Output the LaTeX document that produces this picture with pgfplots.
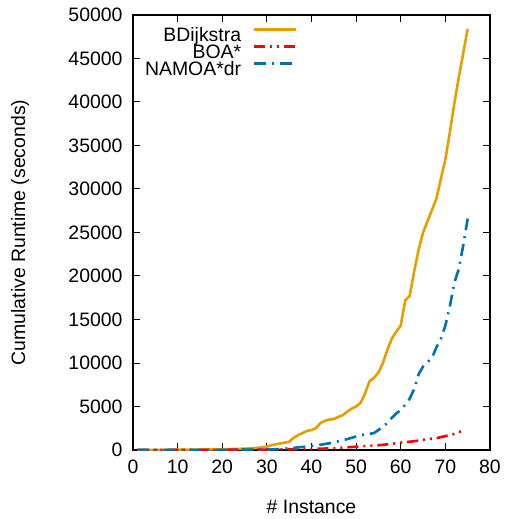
\documentclass[border=0pt]{standalone}
\usepackage{pgfplots}
\pgfplotsset{compat=1.18}
\usepackage{fontspec}
\setmainfont{Liberation Sans}

\definecolor{bdorange}{RGB}{230,159,0}
\definecolor{boared}{RGB}{255,0,0}
\definecolor{namblue}{RGB}{0,114,178}

\begin{document}
\begin{tikzpicture}
\begin{axis}[
    scale only axis,
    width=357bp, height=435bp,
    xmin=0, xmax=80, ymin=0, ymax=50000,
    xtick={0,10,...,80},
    ytick={0,5000,...,50000},
    scaled y ticks=false,
    /pgf/number format/1000 sep={},
    /pgf/number format/assume math mode=true,
    tick label style={font=\fontsize{19.5}{22}\selectfont},
    label style={font=\fontsize{19.5}{22}\selectfont},
    xlabel={\# Instance},
    ylabel={Cumulative Runtime (seconds)},
    xlabel style={at={(axis description cs:0.5,0)}, anchor=center, yshift=-57bp},
    ylabel style={at={(axis description cs:0,0.5)}, anchor=center, rotate=0, yshift=113bp},
    xticklabel style={yshift=-6bp},
    yticklabel style={xshift=-7bp},
    tick align=inside,
    major tick length=7bp,
    axis line style={line width=1.2bp},
    tick style={line width=1bp, black},
    legend cell align=right,
    legend plot pos=right,
    legend style={draw=none, fill=none, at={(0.462,0.97)}, anchor=north east,
        font=\fontsize{19.5}{20}\selectfont, row sep=4.2bp, inner sep=0bp,
        nodes={inner sep=0bp, text height=10bp, text depth=0bp}},
    legend image code/.code={\path (0bp,6.5bp); \draw[#1] (12bp,6.5bp) -- (54bp,6.5bp);},
]
\addplot[color=bdorange, line width=2.6bp] coordinates {
(1,5)(5,15)(10,30)(15,50)(20,80)(25,150)(28,250)(30,380)(31,550)(33,750)(35,950)
(36,1400)(37,1700)(38,1950)(39,2200)(40,2300)(41,2500)(42,3100)(43,3350)(44,3500)
(45,3550)(46,3800)(47,4000)(48,4400)(49,4750)(50,5000)(51,5400)(52,6500)(53,7900)
(54,8300)(55,8900)(56,10000)(57,11500)(58,12800)(59,13600)(60,14300)(61,17200)
(62,17700)(63,20500)(64,23000)(65,25000)(66,26300)(67,27600)(68,28900)(69,31200)
(70,33400)(71,36500)(72,39800)(73,42800)(74,45600)(75,48400)};
\addlegendentry{BDijkstra}
\addplot[color=boared, line width=2.6bp,
    dash pattern=on 11bp off 5bp on 2bp off 5bp on 2bp off 5bp] coordinates {
(1,0)(10,5)(20,20)(30,50)(40,120)(45,200)(50,380)(55,550)(58,700)(60,850)
(62,950)(64,1080)(66,1250)(68,1350)(70,1600)(72,1850)(74,2250)};
\addlegendentry{BOA*}
\addplot[color=namblue, line width=2.6bp,
    dash pattern=on 12bp off 6bp on 2bp off 6bp] coordinates {
(1,0)(10,5)(20,20)(30,50)(33,115)(36,250)(38,350)(40,460)(42,600)(44,770)
(46,1000)(48,1250)(50,1550)(51,1700)(52,1800)(53,1850)(54,1950)(55,2300)
(56,2700)(57,3100)(58,3700)(59,4200)(60,4600)(61,5200)(62,5900)(63,7000)
(64,8700)(65,9600)(66,10100)(67,10600)(68,11800)(69,12800)(70,14300)(71,16500)
(72,19200)(73,20800)(74,23500)(75,26600)};
\addlegendentry{NAMOA*dr}
\end{axis}
\pgfresetboundingbox
\path[use as bounding box] (-133bp,-69bp) rectangle (377bp,450bp);
\end{tikzpicture}
\end{document}
